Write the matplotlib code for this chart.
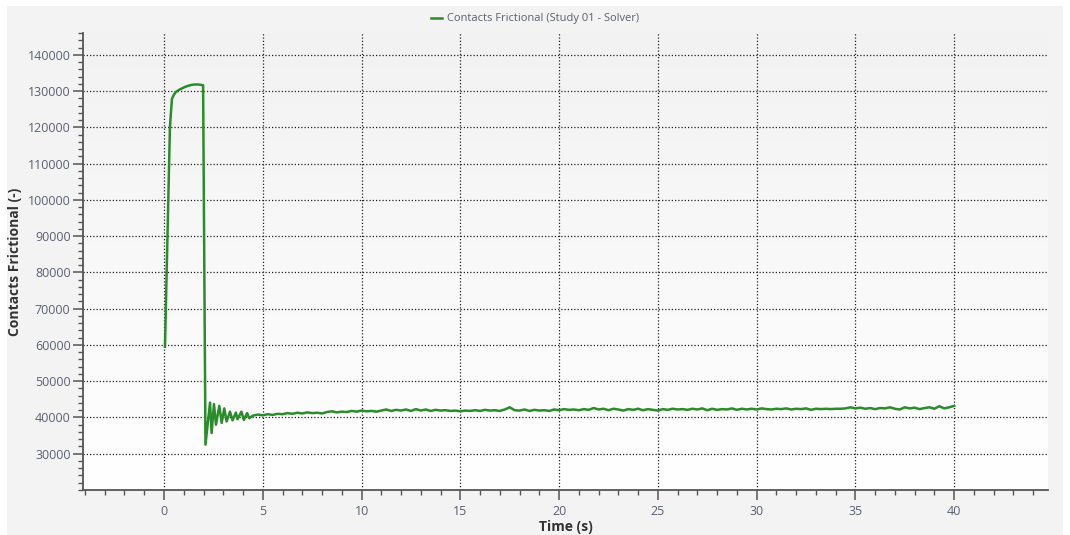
import numpy as np
import matplotlib.pyplot as plt
from matplotlib.patches import Rectangle
from matplotlib.ticker import MultipleLocator

plt.rcParams['font.family'] = ['Open Sans', 'DejaVu Sans']

# начало: рост, плато и падение с затухающими колебаниями
head_t = [0.05, 0.3, 0.4, 0.5, 0.6, 0.75, 0.9, 1.05, 1.2, 1.4, 1.55, 1.75, 1.98,
          2.1, 2.33, 2.41, 2.53, 2.63, 2.8, 2.92, 3.05, 3.17, 3.34, 3.47,
          3.64, 3.72, 3.92, 4.04, 4.21, 4.31]
head_v = [59500, 120000, 127800, 129000, 129700, 130300, 130700, 131100, 131400, 131700, 131800, 131800, 131600,
          32500, 44100, 35700, 43700, 38000, 43200, 38500, 42500, 38900, 41600, 39200,
          41350, 39500, 41600, 39300, 41200, 39800]

# хвост: шаг 0.25 с, начиная с 4.5 с
tail_start = 4.5
tail_step = 0.25
tail_v = [
    40500, 40800,
    40600, 40900, 40700, 41000,   # 5
    40900, 41200, 41000, 41300,   # 6
    41100, 41400, 41200, 41300,   # 7
    41100, 41500, 41700, 41400,   # 8
    41600, 41500, 41800, 41600,   # 9
    41900, 41700, 41800, 41600,   # 10
    41900, 42200, 41800, 42100,   # 11
    41900, 42200, 41800, 42300,   # 12
    41900, 42200, 41800, 42100,   # 13
    41900, 42000, 41800, 41900,   # 14
    41700, 41900, 41800, 42000,   # 15
    41800, 42100, 41900, 42000,   # 16
    41800, 42200, 42800, 42000,   # 17
    41900, 42200, 41800, 42100,   # 18
    41900, 42000, 41800, 42200,   # 19
    42000, 42300, 42100, 42200,   # 20
    42000, 42300, 42100, 42600,   # 21
    42200, 42400, 42000, 42400,   # 22
    42200, 41900, 42300, 42100,   # 23
    42400, 42000, 42300, 42100,   # 24
    41900, 42300, 42100, 42400,   # 25
    42200, 42300, 42100, 42400,   # 26
    42200, 42500, 42000, 42400,   # 27
    42100, 42300, 42200, 42500,   # 28
    42100, 42400, 42200, 42400,   # 29
    42200, 42500, 42300, 42200,   # 30
    42400, 42300, 42500, 42200,   # 31
    42400, 42300, 42500, 42100,   # 32
    42400, 42300, 42400, 42300,   # 33
    42400, 42400, 42500, 42800,   # 34
    42500, 42700, 42400, 42600,   # 35
    42300, 42600, 42500, 42800,   # 36
    42400, 42200, 42800, 42500,   # 37
    42700, 42300, 42600, 42800,   # 38
    42400, 43100, 42500, 42800,   # 39
    43200,                        # 40
]
tail_t = tail_start + tail_step * np.arange(len(tail_v))

time = np.concatenate([head_t, tail_t])
value = np.concatenate([head_v, tail_v])

x_ticks = [0, 5, 10, 15, 20, 25, 30, 35, 40]
y_ticks = [30000, 40000, 50000, 60000, 70000, 80000, 90000, 100000,
           110000, 120000, 130000, 140000]

label_col = '#5a6070'
axis_col = '#555555'

fig = plt.figure(figsize=(10.7, 5.35), dpi=100, facecolor='white')
fig.patches.append(Rectangle((7 / 1070, 0), 1056 / 1070, 529 / 535,
                             transform=fig.transFigure, facecolor='#f3f3f3',
                             edgecolor='none', zorder=-10))

ax = fig.add_axes([83 / 1070, 1 - 490 / 535, 965 / 1070, 457 / 535])
ax.set_facecolor('none')

# лёгкий градиент фона области графика
grad = np.linspace(0, 1, 256).reshape(-1, 1)
ax.imshow(grad, extent=[0, 1, 0, 1], transform=ax.transAxes, aspect='auto',
          cmap=plt.matplotlib.colors.LinearSegmentedColormap.from_list('bg', ['#ffffff', '#f2f2f2']),
          origin='lower', zorder=-5)

ax.plot(time, value, color='#2a8c2a', lw=1.8, label='Contacts Frictional (Study 01 - Solver)', zorder=3)

ax.set_xlim(-4.1, 44.75)
ax.set_ylim(20000, 146000)
ax.set_xticks(x_ticks)
ax.set_yticks(y_ticks)
ax.xaxis.set_minor_locator(MultipleLocator(1))
ax.yaxis.set_minor_locator(MultipleLocator(2000))

ax.grid(True, which='major', color='#222222', linestyle=(0, (1, 1.6)), lw=0.9)
ax.set_axisbelow(True)

for s in ['top', 'right']:
    ax.spines[s].set_visible(False)
for s in ['left', 'bottom']:
    ax.spines[s].set_color(axis_col)
    ax.spines[s].set_linewidth(1.3)

ax.tick_params(which='major', length=7, width=1.1, color=axis_col,
               labelcolor=label_col, labelsize=9, pad=2)
ax.tick_params(which='minor', length=3.5, width=1.0, color=axis_col)
ax.tick_params(axis='x', which='major', pad=4)

ax.set_xlabel('Time (s)', fontsize=10, fontweight='bold', color='#333333', labelpad=1)
ax.set_ylabel('Contacts Frictional (-)', fontsize=10, fontweight='bold', color='#333333', labelpad=4)

leg = ax.legend(loc='center', bbox_to_anchor=(0.5, 1 - 19 / 535), bbox_transform=fig.transFigure,
                frameon=False, fontsize=8, handlelength=1.0, handletextpad=0.4)
for t in leg.get_texts():
    t.set_color(label_col)

fig.savefig('out.png', dpi=100, facecolor=fig.get_facecolor())
